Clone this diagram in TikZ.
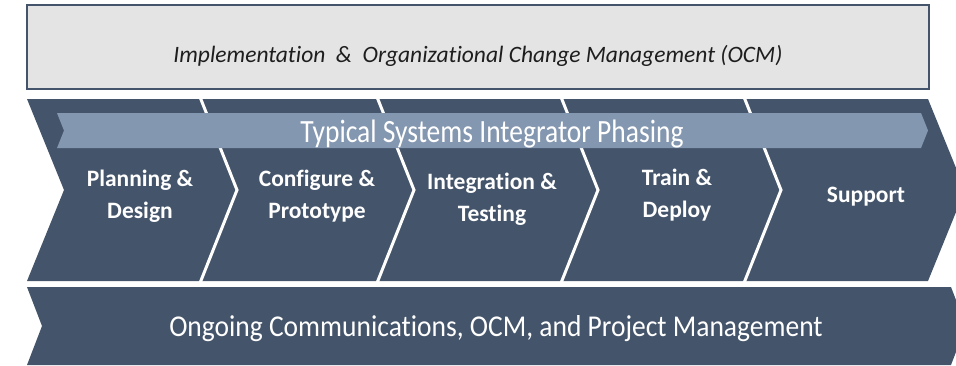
\documentclass[tikz,border=0pt]{standalone}
\usepackage{fontspec}
\setmainfont{Carlito}[Ligatures={NoCommon}]
\definecolor{slate}{HTML}{44546A}
\definecolor{bannerblue}{HTML}{8497B0}
\definecolor{boxgray}{HTML}{E4E4E4}
\definecolor{inktext}{HTML}{1E1E1E}
\tikzset{
  band/.style={fill=slate, draw=none},
  sepline/.style={draw=white, line width=3pt, line join=miter},
  phase/.style={text=white, font=\fontsize{23.5}{32}\selectfont\bfseries, align=center, anchor=base, inner sep=0pt},
  bigwhite/.style={text=white, font=\fontsize{27.5}{30}\selectfont, anchor=base, inner sep=0pt},
}
\begin{document}
\begin{tikzpicture}[x=1pt, y=-1pt]
\useasboundingbox (0,0) rectangle (956,365);
\clip (0,0) rectangle (956,365);
% top box
\draw[fill=boxgray, draw=slate, line width=2pt] (27,4.5) rectangle (929,89);
\node[anchor=base, inner sep=0pt, text=inktext, font=\fontsize{23.5}{26}\selectfont\itshape] (ocm) at (478,62) {Implementation\ \ \&\ \ Organizational Change Management (OCM)};
% middle chevron band
\path[band] (27,99) -- (928,99) -- (965,190) -- (928,281) -- (27,281) -- (64,190) -- cycle;
\foreach \b in {200,377,561,744} {
  \draw[sepline] (\b,97) -- (\b+37,190) -- (\b,283);
}
% banner
\path[fill=bannerblue] (57,113) -- (921,113) -- (928,130.5) -- (921,148) -- (57,148) -- (64,130.5) -- cycle;
\node[bigwhite] (banner) at (492,142) {\scalebox{1}[1.18]{Typical Systems Integrator Phasing}};
% phase labels (anchor = baseline of last line)
\node[phase] (p1) at (140,218) {Planning \&\\Design};
\node[phase] (p2) at (317,218) {Configure \&\\Prototype};
\node[phase] (p3) at (492,221) {Integration \&\\Testing};
\node[phase] (p4) at (677,217) {Train \&\\Deploy};
\node[phase] (p5) at (866,202) {Support};
% lower band
\path[band] (27,287) -- (951,287) -- (966,326) -- (951,365) -- (27,365) -- (42,326) -- cycle;
\node[bigwhite] (ongoing) at (496,336) {\scalebox{1}[1.1]{Ongoing Communications, OCM, and Project Management}};
\end{tikzpicture}
\end{document}
